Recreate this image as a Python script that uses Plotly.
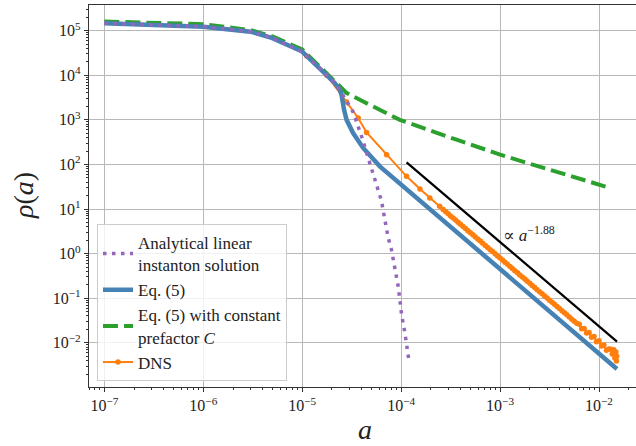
import plotly.graph_objects as go

# ---------------- data ----------------
# Analytical linear instanton solution (purple dotted)
inst_a = [1e-7, 1e-6, 3e-6, 5e-6, 1e-5, 1.63e-5, 2.14e-5, 2.4e-5, 2.8e-5, 3.27e-5,
          3.98e-5, 4.83e-5, 5.65e-5, 6.34e-5, 6.84e-5, 7.4e-5, 8.0e-5, 8.63e-5,
          9.33e-5, 1.01e-4, 1.09e-4, 1.2e-4]
inst_rho = [1.47e5, 1.23e5, 9.5e4, 6.8e4, 3.4e4, 1.21e4, 6.65e3, 4.7e3, 2.6e3, 1.5e3,
            427, 108, 38.5, 15, 5.8, 2.27, 1.2, 0.525,
            0.187, 0.0436, 0.017, 3.94e-3]

# Eq. (5) (blue solid)
eq5_a = [1e-7, 1e-6, 3e-6, 5e-6, 1e-5, 1.63e-5, 2.14e-5, 2.4e-5, 2.5e-5, 2.65e-5,
         2.81e-5, 3.27e-5, 4.13e-5, 6.09e-5, 9.7e-5, 1.95e-4, 1e-3, 1.52e-2]
eq5_rho = [1.47e5, 1.23e5, 9.5e4, 6.8e4, 3.4e4, 1.21e4, 6.65e3, 4.7e3, 3.6e3, 1.68e3,
           1.0e3, 507, 234, 90.6, 37.4, 9.95, 0.447, 2.6e-3]

# Eq. (5) with constant prefactor C (green dashed)
eqC_a = [1e-7, 1e-6, 3e-6, 5e-6, 1e-5, 1.63e-5, 2.14e-5, 2.4e-5, 2.81e-5, 4.13e-5,
         6.09e-5, 9.7e-5, 3.63e-4, 1e-3, 2.14e-3, 1e-2, 1.29e-2]
eqC_rho = [1.6e5, 1.4e5, 1.03e5, 7.4e4, 3.8e4, 1.3e4, 7.3e3, 5.6e3, 4.0e3, 2.58e3,
           1.68e3, 1.0e3, 359, 166, 99, 35.3, 29.8]

# DNS (orange, markers)
dns_a = [1.11e-5, 1.77e-5, 2.81e-5, 3.68e-5, 4.47e-5, 7.13e-5, 1.135e-4, 1.55e-4, 1.95e-4,
         2.45e-4, 2.66e-4, 2.82e-4, 2.99e-4, 3.16e-4, 3.35e-4, 3.55e-4, 3.76e-4, 3.98e-4,
         4.22e-4, 4.47e-4, 4.73e-4, 5.01e-4, 5.31e-4, 5.62e-4, 5.96e-4, 6.31e-4, 6.68e-4,
         7.08e-4, 7.50e-4, 7.94e-4, 8.41e-4, 8.91e-4, 9.44e-4, 1.00e-3, 1.06e-3, 1.12e-3,
         1.19e-3, 1.26e-3, 1.33e-3, 1.41e-3, 1.50e-3, 1.58e-3, 1.68e-3, 1.78e-3, 1.88e-3,
         2.00e-3, 2.11e-3, 2.24e-3, 2.37e-3, 2.51e-3, 2.66e-3, 2.82e-3, 2.99e-3, 3.16e-3,
         3.35e-3, 3.55e-3, 3.76e-3, 3.98e-3, 4.22e-3, 4.47e-3, 4.73e-3, 5.01e-3, 5.31e-3,
         5.62e-3, 5.96e-3, 6.31e-3, 6.68e-3, 7.08e-3, 7.50e-3, 7.94e-3, 8.41e-3, 8.91e-3,
         9.44e-3, 1.00e-2, 1.06e-2, 1.12e-2, 1.19e-2, 1.26e-2, 1.32e-2, 1.36e-2, 1.41e-2,
         1.445e-2, 1.48e-2, 1.50e-2, 1.51e-2]
dns_rho = [2.7e4, 1.0e4, 2.5e3, 1.1e3, 522, 166, 54.2, 28.3, 17.8,
           11.6, 9.72, 8.73, 7.83, 7.02, 6.30, 5.65, 5.07, 4.54,
           4.07, 3.66, 3.28, 2.94, 2.64, 2.37, 2.12, 1.91, 1.71,
           1.53, 1.37, 1.23, 1.11, 0.991, 0.889, 0.798, 0.716, 0.641,
           0.575, 0.516, 0.463, 0.416, 0.372, 0.334, 0.300, 0.269, 0.241,
           0.216, 0.194, 0.174, 0.156, 0.140, 0.126, 0.113, 0.101, 0.0906,
           0.0813, 0.0729, 0.0655, 0.0586, 0.0526, 0.0472, 0.0424, 0.0380, 0.0340,
           0.0305, 0.0274, 0.0260, 0.0207, 0.0210, 0.0166, 0.0170, 0.0133, 0.0138,
           0.0106, 0.0112, 0.00850, 0.00900, 0.00680, 0.00730, 0.00720, 0.00560, 0.00700,
           0.00460, 0.00620, 0.00390, 0.00500]

# power-law guide  ∝ a^-1.88
fit_a = [1.135e-4, 1.52e-2]
fit_rho = [111, 0.0107]

x_tickvals = [1e-7, 1e-6, 1e-5, 1e-4, 1e-3, 1e-2]
x_ticktext = ["10<sup>\u22127</sup>", "10<sup>\u22126</sup>", "10<sup>\u22125</sup>",
              "10<sup>\u22124</sup>", "10<sup>\u22123</sup>", "10<sup>\u22122</sup>"]
y_tickvals = [1e-2, 1e-1, 1e0, 1e1, 1e2, 1e3, 1e4, 1e5]
y_ticktext = ["10<sup>\u22122</sup>", "10<sup>\u22121</sup>", "10<sup>0</sup>",
              "10<sup>1</sup>", "10<sup>2</sup>", "10<sup>3</sup>", "10<sup>4</sup>",
              "10<sup>5</sup>"]

# ---------------- figure ----------------
SERIF = '"Liberation Serif", "DejaVu Serif", serif'
fig = go.Figure()

fig.add_trace(go.Scatter(x=dns_a, y=dns_rho, mode="lines+markers", name="DNS",
                         line=dict(color="#ff7f0e", width=2),
                         marker=dict(color="#ff7f0e", size=5.5), legendrank=4))
fig.add_trace(go.Scatter(x=eqC_a, y=eqC_rho, mode="lines",
                         name="Eq. (5) with constant<br>prefactor <i>C</i>",
                         line=dict(color="#2ca02c", width=4, dash="15px,6px"), legendrank=3))
fig.add_trace(go.Scatter(x=eq5_a, y=eq5_rho, mode="lines", name="Eq. (5)",
                         line=dict(color="#4682b4", width=4.5), legendrank=2))
fig.add_trace(go.Scatter(x=inst_a, y=inst_rho, mode="lines",
                         name="Analytical linear<br>instanton solution",
                         line=dict(color="#9467bd", width=3.5, dash="3.5px,5.5px"), legendrank=1))
fig.add_trace(go.Scatter(x=fit_a, y=fit_rho, mode="lines", showlegend=False,
                         line=dict(color="black", width=2.2)))

minor_x = [m * 10.0 ** e for e in range(-8, -1) for m in range(2, 10)]
minor_y = [m * 10.0 ** e for e in range(-3, 6) for m in range(2, 10)]

axis_common = dict(type="log", showline=True, linecolor="#333", linewidth=1.3,
                   ticks="outside", ticklen=4, tickwidth=1, tickcolor="#333",
                   showgrid=True, gridcolor="#b8b8b8", gridwidth=1.4,
                   zeroline=False, automargin=False,
                   tickfont=dict(family=SERIF, size=16, color="#222"))

fig.update_xaxes(**axis_common, range=[-7.155, -1.626], tickmode="array",
                 tickvals=x_tickvals, ticktext=x_ticktext, mirror=True,
                 minor=dict(tickmode="array", tickvals=minor_x, ticks="outside",
                            ticklen=2, tickcolor="#333", showgrid=False))
fig.update_yaxes(**axis_common, range=[-2.99, 5.575], tickmode="array",
                 tickvals=y_tickvals, ticktext=y_ticktext, mirror=False,
                 minor=dict(tickmode="array", tickvals=minor_y, ticks="outside",
                            ticklen=2, tickcolor="#333", showgrid=False))

fig.add_annotation(x=-2.995, y=0.43, xref="x", yref="y", text="\u221d <i>a</i><sup>\u22121.88</sup>",
                   showarrow=False, xanchor="left", yanchor="middle",
                   font=dict(family=SERIF, size=17, color="#222"))
fig.add_annotation(x=(365 - 89) / 547, y=(387 - 430) / 382, xref="paper", yref="paper",
                   text="<i>a</i>", showarrow=False, xanchor="center", yanchor="middle",
                   font=dict(family=SERIF, size=28, color="#222"))
fig.add_annotation(x=(23 - 89) / 547, y=0.5, xref="paper", yref="paper",
                   text="<i>\u03c1</i>(<i>a</i>)", showarrow=False, textangle=-90,
                   xanchor="center", yanchor="middle",
                   font=dict(family=SERIF, size=28, color="#222"))

fig.update_layout(
    width=636, height=446,
    margin=dict(l=89, r=0, t=5, b=59),
    paper_bgcolor="white", plot_bgcolor="white",
    showlegend=True,
    legend=dict(x=(97 - 89) / 547, y=(387 - 381) / 382, xanchor="left", yanchor="bottom",
                bgcolor="rgba(255,255,255,0.8)", bordercolor="#cccccc", borderwidth=1,
                font=dict(family=SERIF, size=17, color="#222"), itemwidth=30,
                tracegroupgap=0),
)

fig.write_html("out.html", config={"displayModeBar": False},
               post_script="document.body.style.margin='0';")
